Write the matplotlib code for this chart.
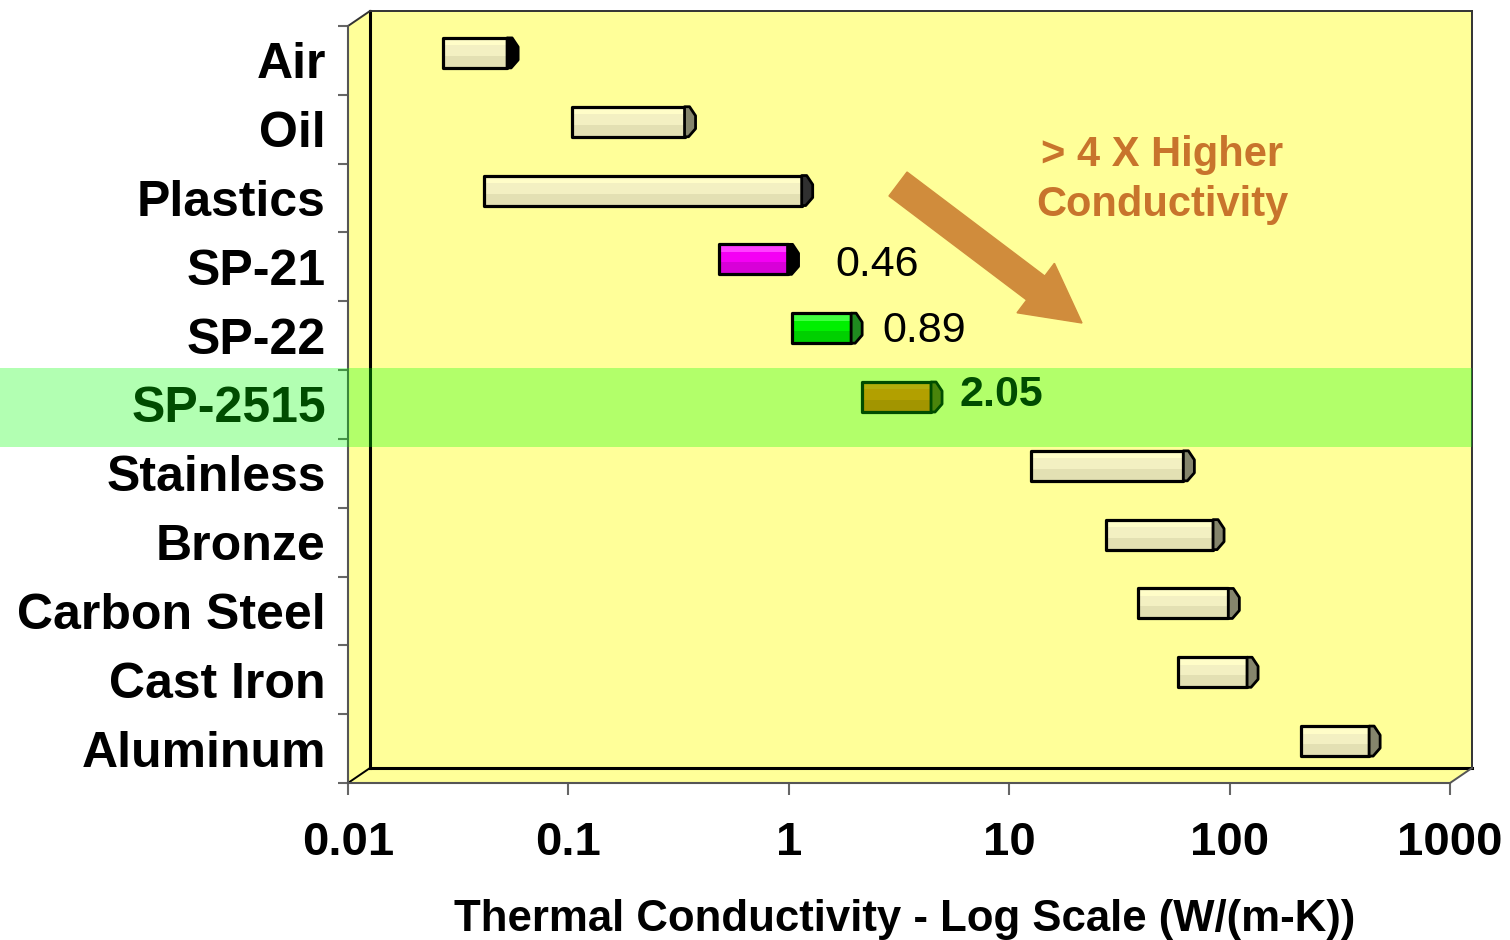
import matplotlib

matplotlib.use("Agg")

import matplotlib.pyplot as plt
import matplotlib.patches as mpatches
import matplotlib.lines as mlines
import matplotlib.transforms as mtransforms
from matplotlib.ticker import FixedLocator, FixedFormatter, NullLocator, NullFormatter
import numpy as np


# data (W/(m-K))
materials = ["Air", "Oil", "Plastics", "SP-21", "SP-22", "SP-2515",
             "Stainless", "Bronze", "Carbon Steel", "Cast Iron", "Aluminum"]
k_low = [0.024, 0.093, 0.037, 0.43, 0.92, 1.92, 11.2, 24.5, 34.2, 52.0, 188.0]
k_high = [0.047, 0.30, 1.02, 0.88, 1.71, 3.94, 55.0, 75.0, 88.0, 107.0, 383.0]
highlight = "SP-2515"

callout_text = ["0.46", "0.89", "2.05"]
callout_x = [1.62, 2.65, 5.98]
callout_y = [2.97, 3.93, 4.86]

decade_ticks = [0.01, 0.1, 1, 10, 100, 1000]
decade_labels = ["0.01", "0.1", "1", "10", "100", "1000"]

# bar colours: (top, middle, bottom, cap)
CREAM = ("#fffdc8", "#f3f0c2", "#e3e0b3", "#85856c")
bar_colors = {
    "Air": CREAM[:3] + ("#000000",),
    "Plastics": CREAM[:3] + ("#303030",),
    "SP-21": ("#ff40ff", "#f400f4", "#d800d8", "#000000"),
    "SP-22": ("#40ff40", "#00f000", "#00d000", "#1f8a1f"),
    "SP-2515": ("#ff8c10", "#ff7800", "#e86800", "#6a5010"),
}

W, H = 1510, 940
L, R, T, B = 348, 1450, 26, 783     # front frame, pixels
DX, DY = 22, 15                     # depth of the box
BAR_DX, BAR_DY = 11, 7.5            # bars sit half way back
YELLOW = "#ffff99"

plt.rcParams["font.family"] = ["Liberation Sans", "DejaVu Sans"]

fig = plt.figure(figsize=(W / 100, H / 100), dpi=100)
ax = fig.add_axes([L / W, 1 - B / H, (R - L) / W, (B - T) / H])
ax.set_xscale("log")
ax.set_xlim(0.01, 1000)
ax.set_ylim(len(materials) - 0.5, -0.5)
ax.patch.set_visible(False)

# pixel coords, origin top-left
px = mtransforms.Affine2D().scale(1 / W, -1 / H).translate(0, 1) + fig.transFigure

# --- pseudo 3D box ---
side = mpatches.Polygon([(L, T), (L + DX, T - DY), (L + DX, B - DY), (L, B)],
                        closed=True, facecolor=YELLOW, edgecolor="none",
                        transform=px, zorder=-3)
floor = mpatches.Polygon([(L, B), (L + DX, B - DY), (R + DX, B - DY), (R, B)],
                         closed=True, facecolor=YELLOW, edgecolor="none",
                         transform=px, zorder=-3)
back = mpatches.Rectangle((L + DX, T - DY), R - L, B - T, facecolor=YELLOW,
                          edgecolor="none", transform=px, zorder=-3)
for p in (side, floor, back):
    fig.add_artist(p)

edges = [
    ([L + DX, L + DX], [T - DY, B - DY], "#000000", 2.2),
    ([L + DX, R + DX], [B - DY, B - DY], "#000000", 2.2),
    ([L + DX, R + DX], [T - DY, T - DY], "#333333", 1.4),
    ([R + DX, R + DX], [T - DY, B - DY], "#333333", 1.4),
    ([L, L + DX], [T, T - DY], "#333333", 1.4),
    ([L, L + DX], [B, B - DY], "#000000", 1.4),
    ([R, R + DX], [B, B - DY], "#555555", 1.4),
]
for xs, ys, c, lw in edges:
    fig.add_artist(mlines.Line2D(xs, ys, color=c, lw=lw, transform=px, zorder=-2))

# --- bars ---
bar_tr = mtransforms.offset_copy(ax.transData, fig=fig, x=BAR_DX, y=BAR_DY, units="dots")
bar_h = 30 / ((B - T) / len(materials))
rows = np.arange(len(materials))
widths = np.array(k_high) - np.array(k_low)
top0 = rows - bar_h / 2

for i, name in enumerate(materials):
    c_top, c_mid, c_bot, c_cap = bar_colors.get(name, CREAM)
    layers = [
        (rows[i], bar_h, c_bot),
        (top0[i] + 0.3 * bar_h, 0.6 * bar_h, c_mid),
        (top0[i] + 0.125 * bar_h, 0.25 * bar_h, c_top),
    ]
    for yc, hh, col in layers:
        bc = ax.barh(yc, widths[i], left=k_low[i], height=hh, color=col,
                     edgecolor="none", zorder=3)
        for r in bc:
            r.set_transform(bar_tr)
            r.set_clip_on(False)
    bc = ax.barh(rows[i], widths[i], left=k_low[i], height=bar_h, fill=False,
                 edgecolor="black", lw=2.3, zorder=4)
    for r in bc:
        r.set_transform(bar_tr)
        r.set_clip_on(False)
        r.set_joinstyle("round")

    # end cap of the bar, in pixels around the bar's right end
    hp = 15
    cap_tr = (mtransforms.Affine2D().translate(BAR_DX, BAR_DY)
              + mtransforms.ScaledTranslation(k_high[i], rows[i], ax.transData))
    cap = mpatches.Polygon([(0, hp), (5, hp), (11, hp - 9), (11, -hp + 8), (4, -hp), (0, -hp)],
                           closed=True, facecolor=c_cap, edgecolor="black", lw=2.0,
                           joinstyle="round", transform=cap_tr, zorder=5, clip_on=False)
    ax.add_artist(cap)

# value callouts
for s, x, y in zip(callout_text, callout_x, callout_y):
    bold = s == "2.05"
    ax.text(x, y, s, fontsize=31, fontweight="bold" if bold else "normal",
            ha="left", va="center", color="black", zorder=6)

# --- axes styling ---
for sp in ("top", "right"):
    ax.spines[sp].set_visible(False)
for sp in ("left", "bottom"):
    ax.spines[sp].set_color("#555555")
    ax.spines[sp].set_linewidth(1.5)

ax.xaxis.set_major_locator(FixedLocator(decade_ticks))
ax.xaxis.set_major_formatter(FixedFormatter(decade_labels))
ax.xaxis.set_minor_locator(NullLocator())
ax.tick_params(axis="x", length=8.6, width=1.5, color="#666666", pad=19, labelsize=34)
for lbl in ax.get_xticklabels():
    lbl.set_fontweight("bold")

ax.yaxis.set_major_locator(FixedLocator(np.arange(-0.5, len(materials))))
ax.yaxis.set_major_formatter(NullFormatter())
ax.yaxis.set_minor_locator(FixedLocator(rows))
ax.yaxis.set_minor_formatter(FixedFormatter(materials))
ax.tick_params(axis="y", which="major", length=7.2, width=1.5, color="#666666")
ax.tick_params(axis="y", which="minor", length=0, pad=16, labelsize=36)
for lbl in ax.get_yticklabels(minor=True):
    lbl.set_fontweight("bold")

ax.set_xlabel("Thermal Conductivity - Log Scale (W/(m-K))", fontsize=31.5, fontweight="bold")
ax.xaxis.set_label_coords((905 - L) / (R - L), -(920 - B) / (B - T))
ax.xaxis.label.set_va("center")

# --- callout arrow and note ---
fig.add_artist(mpatches.FancyArrow(898, 184, 184, 139, width=30, head_width=62,
                                   head_length=58, length_includes_head=True,
                                   color="#d08c3c", transform=px, zorder=3))
fig.text(1162, 180, "> 4 X Higher\nConductivity", transform=px, ha="center",
         va="center", fontsize=30, fontweight="bold", color="#c8742c",
         linespacing=1.3, zorder=3)

# green highlight band over the SP-2515 row
hi = materials.index(highlight)
band_tr = mtransforms.blended_transform_factory(fig.transFigure, ax.transData)
band = mpatches.Rectangle((0, hi - 0.53), (R + DX) / W, 1.15, facecolor="#00ff00",
                          edgecolor="none", alpha=0.3, transform=band_tr, zorder=10)
fig.add_artist(band)

fig.savefig("out.png", dpi=100)
